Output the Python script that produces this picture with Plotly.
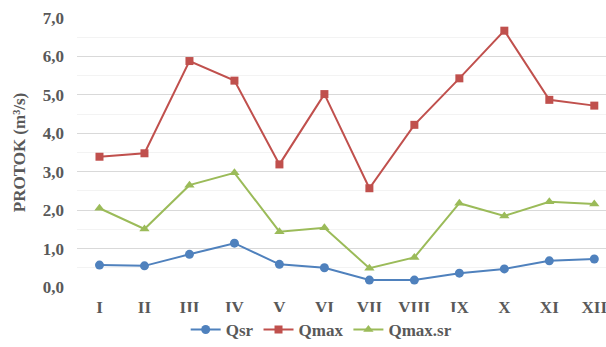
import plotly.graph_objects as go

months = ["I", "II", "III", "IV", "V", "VI", "VII", "VIII", "IX", "X", "XI", "XII"]
qsr = [0.57, 0.55, 0.85, 1.14, 0.59, 0.50, 0.18, 0.18, 0.36, 0.47, 0.68, 0.73]
qmax = [3.39, 3.48, 5.88, 5.37, 3.19, 5.02, 2.57, 4.22, 5.43, 6.67, 4.87, 4.72]
qmax_sr = [2.05, 1.51, 2.65, 2.97, 1.44, 1.54, 0.49, 0.77, 2.18, 1.85, 2.22, 2.16]
y_ticks = [0, 1, 2, 3, 4, 5, 6, 7]

font_family = "Liberation Serif"
gray = "#595959"
fs = 17

fig = go.Figure()
series = [
    ("Qsr", qsr, "#4F81BD", "circle", 9),
    ("Qmax", qmax, "#C0504D", "square", 8),
    ("Qmax.sr", qmax_sr, "#9BBB59", "triangle-up", 9),
]
for name, vals, color, sym, size in series:
    fig.add_trace(go.Scatter(
        x=list(range(len(months))), y=vals, name=name, mode="lines+markers",
        line=dict(color=color, width=2),
        marker=dict(symbol=sym, size=size, color=color),
    ))

fig.update_layout(
    width=606, height=347,
    margin=dict(l=77, r=0, t=18, b=60, autoexpand=False),
    paper_bgcolor="white", plot_bgcolor="white",
    separators=",.",
    font=dict(family=font_family, size=fs, color=gray),
    showlegend=True,
    legend=dict(orientation="h", x=0.53, xanchor="center", xref="container",
                y=17 / 347, yanchor="middle", yref="container",
                font=dict(family=font_family, size=fs, color=gray, weight="bold"),
                itemwidth=30, tracegroupgap=0),
)
fig.update_xaxes(
    range=[-0.5, 11.26], tickmode="array",
    tickvals=list(range(len(months))), ticktext=months,
    showgrid=False, zeroline=False, showline=False, automargin=False,
    ticklabelstandoff=8, ticklabeloverflow="allow",
    tickfont=dict(family=font_family, size=fs, color=gray, weight="bold"),
)
fig.update_yaxes(
    range=[0, 7], tickmode="array", tickvals=y_ticks, tickformat=".1f",
    showgrid=True, gridcolor="#d9d9d9", gridwidth=1,
    minor=dict(dtick=0.5, showgrid=True, gridcolor="#f3f3f3", gridwidth=1),
    zeroline=False, showline=False, automargin=False,
    ticklabelstandoff=12,
    tickfont=dict(family=font_family, size=fs, color=gray, weight="bold"),
    title=dict(text="PROTOK (m³/s)", standoff=12,
               font=dict(family=font_family, size=fs, color=gray, weight="bold")),
)

fig.write_html("out.html", config={"displayModeBar": False},
               post_script="document.body.style.margin='0';")
